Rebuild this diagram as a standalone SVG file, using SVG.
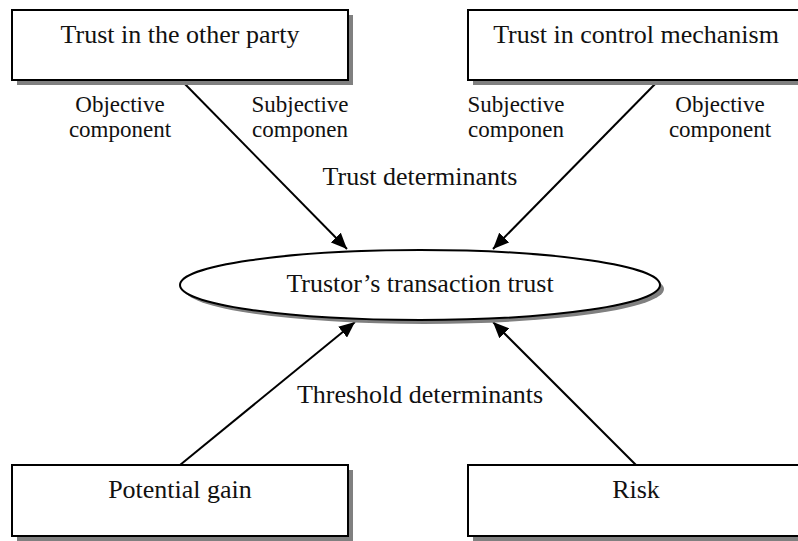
<svg xmlns="http://www.w3.org/2000/svg" width="798" height="541" viewBox="0 0 798 541">
<defs>
<style>
.box{fill:#fff;stroke:#000;stroke-width:2}
.shadow{fill:#808080;stroke:none}
.t{font-family:"Liberation Serif","Times New Roman",serif;fill:#111;text-anchor:middle}
.big{font-size:26px}
.small{font-size:23px}
.edge{stroke:#000;stroke-width:2;fill:none;marker-end:url(#ah)}
.plain{stroke:#000;stroke-width:2;fill:none}
</style>
<marker id="ah" markerUnits="userSpaceOnUse" markerWidth="18" markerHeight="14" refX="16" refY="7" orient="auto">
<path d="M0,0 L16,7 L0,14 z" fill="#000"/>
</marker>
</defs>
<rect width="798" height="541" fill="#fff"/>
<g id="connectors">
<line class="edge" x1="181" y1="80" x2="347" y2="249"/>
<line class="edge" x1="659" y1="80" x2="493" y2="249"/>
<line class="edge" x1="180" y1="465" x2="355" y2="322"/>
<line class="edge" x1="636" y1="465" x2="493" y2="322"/>
</g>
<g id="trust-other-party">
<rect class="shadow" x="17" y="15" width="336" height="70"/>
<rect class="box" x="12" y="10" width="336" height="70"/>
<text class="t big" x="180" y="43">Trust in the other party</text>
</g>
<g id="trust-control-mechanism">
<rect class="shadow" x="473" y="15" width="336" height="70"/>
<rect class="box" x="468" y="10" width="336" height="70"/>
<text class="t big" x="636" y="43">Trust in control mechanism</text>
</g>
<g id="transaction-trust">
<ellipse class="shadow" cx="424" cy="289" rx="240" ry="35"/>
<ellipse class="box" cx="420" cy="285" rx="240" ry="35"/>
<text class="t big" x="420" y="292">Trustor’s transaction trust</text>
</g>
<g id="potential-gain">
<rect class="shadow" x="17" y="470" width="336" height="71"/>
<rect class="box" x="12" y="465" width="336" height="71"/>
<text class="t big" x="180" y="498">Potential gain</text>
</g>
<g id="risk">
<rect class="shadow" x="473" y="470" width="336" height="71"/>
<rect class="box" x="468" y="465" width="336" height="71"/>
<text class="t big" x="636" y="498">Risk</text>
</g>
<g id="labels">
<text class="t small" x="120" y="112">Objective</text>
<text class="t small" x="120" y="137">component</text>
<text class="t small" x="300" y="112">Subjective</text>
<text class="t small" x="300" y="137">componen</text>
<text class="t small" x="516" y="112">Subjective</text>
<text class="t small" x="516" y="137">componen</text>
<text class="t small" x="720" y="112">Objective</text>
<text class="t small" x="720" y="137">component</text>
<text class="t big" x="420" y="185">Trust determinants</text>
<text class="t big" x="420" y="403">Threshold determinants</text>
</g>
</svg>
